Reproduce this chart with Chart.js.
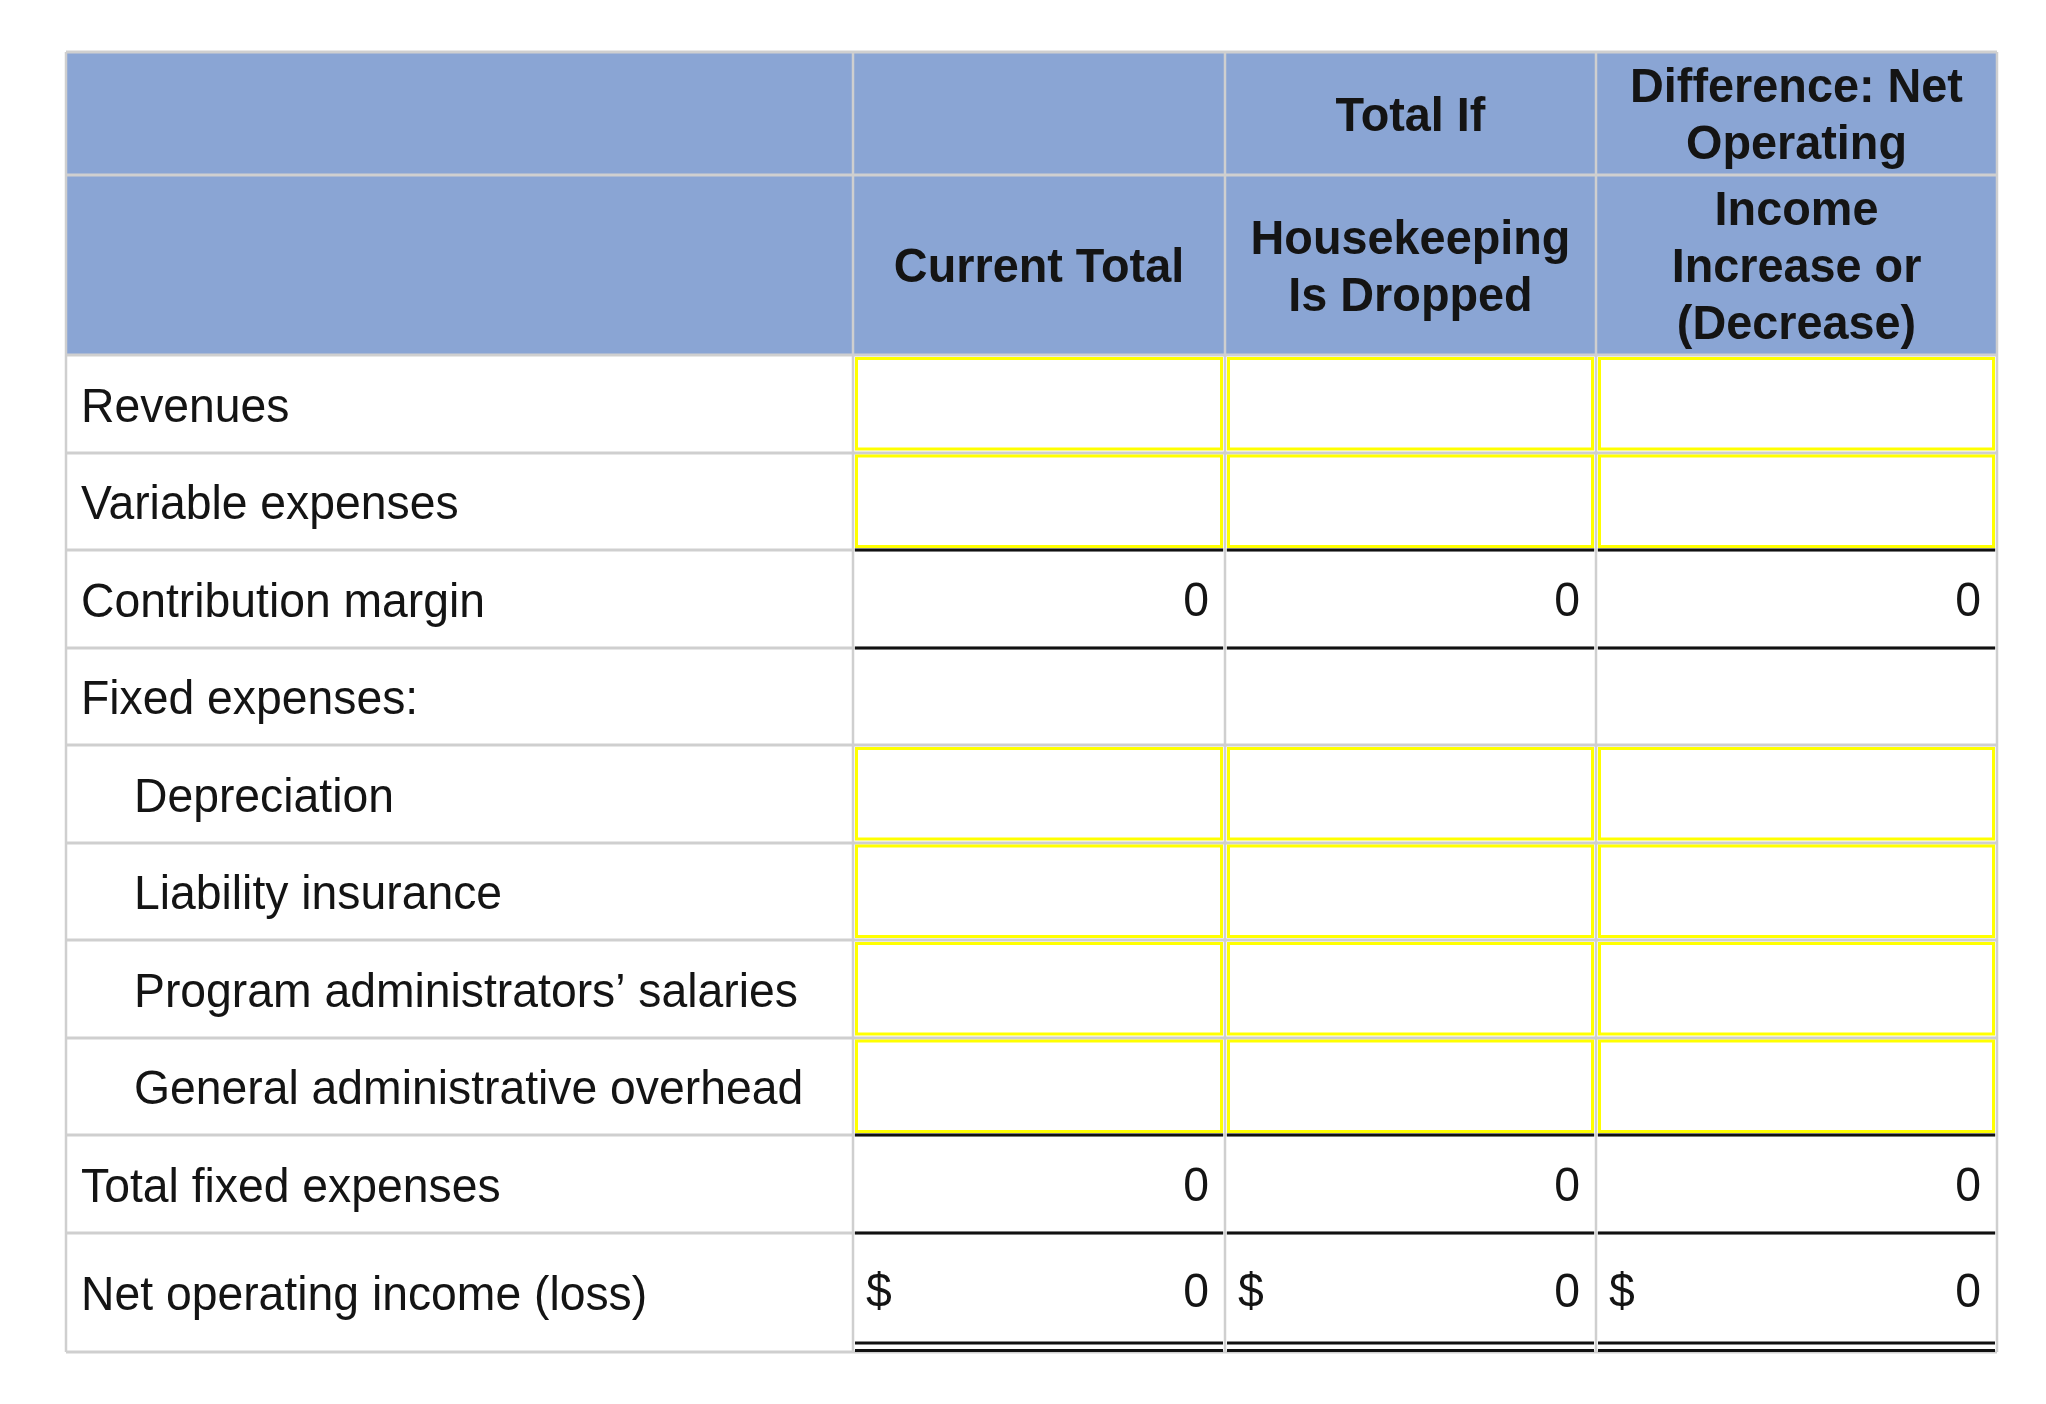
<!DOCTYPE html>
<html><head><meta charset="utf-8">
<script src="https://cdn.jsdelivr.net/npm/chart.js@4.4.1/dist/chart.umd.min.js"></script>
<style>html,body{margin:0;padding:0;background:#fff;}canvas{display:block;}</style>
</head><body>
<canvas id="c" width="2046" height="1404"></canvas>
<script>
// ---- content ----
const headerTop = ['', '', 'Total If', 'Difference: Net\nOperating'];
const headerBottom = ['', 'Current Total', 'Housekeeping\nIs Dropped', 'Income\nIncrease or\n(Decrease)'];
const rowLabels = ['Revenues', 'Variable expenses', 'Contribution margin', 'Fixed expenses:', 'Depreciation',
  'Liability insurance', 'Program administrators\u2019 salaries', 'General administrative overhead',
  'Total fixed expenses', 'Net operating income (loss)'];
const rowIndent = [0, 0, 0, 0, 1, 1, 1, 1, 0, 0];
const inputRows = [0, 1, 4, 5, 6, 7];
const contributionMargin = [0, 0, 0];
const totalFixedExpenses = [0, 0, 0];
const netOperatingIncome = [0, 0, 0];

// ---- layout (scale units = px) ----
const colEdges = [0, 787, 1159, 1530, 1931];
const rowEdges = [0, 123, 303, 400.5, 498, 595.5, 693, 790.5, 888, 985.5, 1083, 1180.5, 1300];
const HEADER_ROWS = 2;
const HEADER_BG = '#8AA5D4';
const GRID = '#cfcfcf';
const TEXT = '#141414';
const FONT = '"Liberation Sans", Arial, sans-serif';
const FS = 49, SX = 0.945;
const FSB = 48, SXB = 0.975;
const LINE = 57;

const summaryRows = [
  { row: 2, values: contributionMargin, dollar: false },
  { row: 8, values: totalFixedExpenses, dollar: false },
  { row: 9, values: netOperatingIncome, dollar: true }
];
const points = [];
summaryRows.forEach(s => {
  s.values.forEach((v, c) => {
    const r = HEADER_ROWS + s.row;
    points.push({ x: colEdges[c + 2] - 16, y: (rowEdges[r] + rowEdges[r + 1]) / 2, v: v, dollar: s.dollar, left: colEdges[c + 1] + 13 });
  });
});

function txt(ctx, s, px, py, sx) {
  ctx.save();
  ctx.translate(px, py);
  ctx.scale(sx, 1);
  ctx.fillText(s, 0, 0);
  ctx.restore();
}

const tablePlugin = {
  id: 'table',
  beforeDatasetsDraw(chart) {
    const { ctx, scales: { x, y } } = chart;
    const X = v => x.getPixelForValue(v), Y = v => y.getPixelForValue(v);
    const nC = colEdges.length - 1;
    const x0 = X(colEdges[0]), x1 = X(colEdges[nC]);
    const y0 = Y(rowEdges[0]), y1 = Y(rowEdges[rowEdges.length - 1]);
    ctx.save();
    ctx.fillStyle = '#fff';
    ctx.fillRect(x0, y0, x1 - x0, y1 - y0);
    // header background
    ctx.fillStyle = HEADER_BG;
    ctx.fillRect(x0, y0, x1 - x0, Y(rowEdges[HEADER_ROWS]) - y0);
    // grid lines
    ctx.strokeStyle = GRID;
    ctx.lineWidth = 3;
    rowEdges.forEach(rv => {
      const py = Math.round(Y(rv));
      ctx.beginPath(); ctx.moveTo(x0, py); ctx.lineTo(x1, py); ctx.stroke();
    });
    ctx.lineWidth = 2.5;
    colEdges.forEach(cv => {
      const px = Math.round(X(cv));
      ctx.beginPath(); ctx.moveTo(px, y0); ctx.lineTo(px, y1); ctx.stroke();
    });
    // yellow input boxes
    ctx.strokeStyle = '#ffff00';
    ctx.lineWidth = 3;
    inputRows.forEach(r => {
      const ri = HEADER_ROWS + r;
      const top = Y(rowEdges[ri]), bot = Y(rowEdges[ri + 1]);
      for (let c = 1; c < nC; c++) {
        const l = X(colEdges[c]), rr = X(colEdges[c + 1]);
        ctx.strokeRect(l + 3.5, top + 3.5, rr - l - 7, bot - top - 7);
      }
    });
    // black rules
    ctx.strokeStyle = '#111';
    ctx.lineWidth = 3;
    const rule = (yy) => {
      for (let c = 1; c < nC; c++) {
        const l = X(colEdges[c]) + 2, rr = X(colEdges[c + 1]) - 2;
        ctx.beginPath(); ctx.moveTo(l, yy); ctx.lineTo(rr, yy); ctx.stroke();
      }
    };
    [2, 8].forEach(r => {
      const ri = HEADER_ROWS + r;
      rule(Math.round(Y(rowEdges[ri])));
      rule(Math.round(Y(rowEdges[ri + 1])));
    });
    const netBot = Y(rowEdges[HEADER_ROWS + 10]);
    rule(Math.round(netBot) - 9);
    rule(Math.round(netBot) - 1.5);
    // header text
    ctx.fillStyle = TEXT;
    ctx.font = 'bold ' + FSB + 'px ' + FONT;
    ctx.textAlign = 'center';
    ctx.textBaseline = 'alphabetic';
    const headerCell = (cells, r) => {
      cells.forEach((t, c) => {
        if (!t) return;
        const lines = t.split('\n');
        const cx = (X(colEdges[c]) + X(colEdges[c + 1])) / 2;
        const cy = (Y(rowEdges[r]) + Y(rowEdges[r + 1])) / 2;
        lines.forEach((ln, i) => {
          txt(ctx, ln, cx, cy + (i - (lines.length - 1) / 2) * LINE + 17, SXB);
        });
      });
    };
    headerCell(headerTop, 0);
    headerCell(headerBottom, 1);
    // row labels
    ctx.font = FS + 'px ' + FONT;
    ctx.textAlign = 'left';
    rowLabels.forEach((lab, r) => {
      const ri = HEADER_ROWS + r;
      const cy = (Y(rowEdges[ri]) + Y(rowEdges[ri + 1])) / 2;
      txt(ctx, lab, X(colEdges[0]) + 15 + rowIndent[r] * 53, cy + 18, SX);
    });
    ctx.restore();
  },
  afterDatasetsDraw(chart) {
    const { ctx, scales: { x } } = chart;
    const meta = chart.getDatasetMeta(0);
    ctx.save();
    ctx.fillStyle = TEXT;
    ctx.font = FS + 'px ' + FONT;
    ctx.textBaseline = 'alphabetic';
    meta.data.forEach((el, i) => {
      const p = points[i];
      const dy = p.dollar ? 15 : 17;
      ctx.textAlign = 'right';
      txt(ctx, String(p.v), el.x, el.y + dy, SX);
      if (p.dollar) {
        ctx.textAlign = 'left';
        txt(ctx, '$', x.getPixelForValue(p.left), el.y + dy, SX);
      }
    });
    ctx.restore();
  }
};

new Chart(document.getElementById('c'), {
  type: 'scatter',
  data: { datasets: [{ data: points, pointRadius: 0, pointHoverRadius: 0, borderWidth: 0 }] },
  options: {
    responsive: false,
    animation: false,
    events: [],
    layout: { padding: { left: 66, top: 52, right: 49, bottom: 52 } },
    plugins: { legend: { display: false }, tooltip: { enabled: false } },
    scales: {
      x: { type: 'linear', min: 0, max: 1931, display: false },
      y: { type: 'linear', min: 0, max: 1300, reverse: true, display: false }
    }
  },
  plugins: [tablePlugin]
});
</script>
</body></html>
